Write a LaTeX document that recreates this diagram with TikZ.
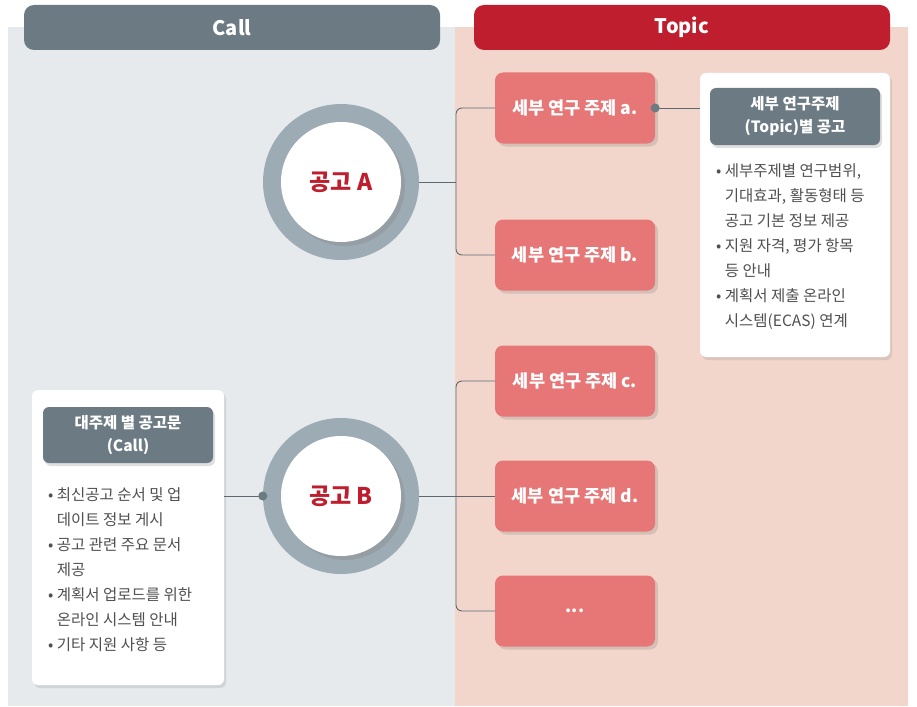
\documentclass[tikz,border=0pt]{standalone}
\usepackage{fontspec}
\setmainfont{Noto Sans CJK KR}
\usetikzlibrary{positioning, shadows}

\definecolor{callbg}{HTML}{E6EAED}
\definecolor{topicbg}{HTML}{F2D6CC}
\definecolor{slate}{HTML}{6C7A83}
\definecolor{crimson}{HTML}{BE1E2D}
\definecolor{salmon}{HTML}{E77676}
\definecolor{ring}{HTML}{9DABB4}
\definecolor{wire}{HTML}{5D6870}
\definecolor{note}{HTML}{505050}

\tikzset{
  header/.style={rounded corners=10pt, minimum width=416pt, minimum height=45pt, text=white,
    font=\fontsize{20}{22}\selectfont\bfseries},
  topicbox/.style={fill=salmon, rounded corners=8pt, minimum width=160pt, minimum height=71pt,
    text=white, font=\fontsize{17.5}{19}\selectfont\bfseries,
    drop shadow={opacity=0.25, shadow xshift=3pt, shadow yshift=-3pt}},
  ringnode/.style={circle, fill=ring, minimum size=156pt, inner sep=0pt},
  corenode/.style={circle, fill=white, minimum size=120pt, inner sep=0pt, text=crimson,
    font=\fontsize{23}{25}\selectfont\bfseries,
    drop shadow={opacity=0.3, shadow xshift=4pt, shadow yshift=-4pt}},
  infobox/.style={fill=white, rounded corners=6pt,
    drop shadow={opacity=0.2, shadow xshift=2pt, shadow yshift=-3pt}},
  infohead/.style={fill=slate, rounded corners=6pt, minimum width=170pt, minimum height=57pt,
    text=white, align=center, font=\fontsize{15.5}{23}\selectfont\bfseries,
    drop shadow={opacity=0.25, shadow xshift=2pt, shadow yshift=-3pt}},
  bullets/.style={anchor=north west, inner sep=0pt, align=left, text=note,
    font=\fontsize{15.5}{25}\selectfont},
  conn/.style={draw=wire, line width=0.9pt, rounded corners=6pt},
  dot/.style={circle, fill=slate, minimum size=9pt, inner sep=0pt}
}
\newcommand{\ind}{\hphantom{•~}}

\begin{document}
\begin{tikzpicture}[x=1pt, y=-1pt]
  \useasboundingbox (0,0) rectangle (917,706);
  % panels
  \fill[callbg] (8,27) rectangle (455,706);
  \fill[topicbg] (455,27) rectangle (908,706);
  \node[header, fill=slate] (hcall) at (232,27.5) {Call};
  \node[header, fill=crimson] (htopic) at (682,27.5) {Topic};

  % calls
  \node[ringnode] (ra) at (341,182) {};
  \node[corenode] (ca) at (ra) {공고 A};
  \node[ringnode] (rb) at (341,496) {};
  \node[corenode] (cb) at (rb) {공고 B};

  % topics
  \foreach \n/\y in {a/108, b/255, c/381, d/496}{
    \node[topicbox] (t\n) at (575,\y) {세부 연구 주제 \n.};
  }
  \node[topicbox] (te) at (575,611) {...};

  \coordinate (ja) at (456,182);
  \coordinate (jb) at (456,496);
  \draw[conn] (ra.east) -- (ja);
  \draw[conn] (ta.west) -| (ja) |- (tb.west);
  \draw[conn] (rb.east) -- (td.west);
  \draw[conn] (tc.west) -| (jb) |- (te.west);

  % topic notice
  \node[infobox, minimum width=190pt, minimum height=284pt] (it) at (795,215) {};
  \node[infohead] (iht) at (795,116.5) {세부 연구주제\\(Topic)별 공고};
  \node[bullets] (bt) at (716,163) {• 세부주제별 연구범위,\\\ind 기대효과, 활동형태 등\\\ind 공고 기본 정보 제공\\
    • 지원 자격, 평가 항목\\\ind 등 안내\\• 계획서 제출 온라인\\\ind 시스템(ECAS) 연계};
  \draw[conn] (ta.east) -- (ta.east -| it.west);
  \node[dot] at (ta.east) {};

  % call notice
  \node[infobox, minimum width=192pt, minimum height=295pt] (ic) at (128,537.5) {};
  \node[infohead, minimum height=56pt] (ihc) at (128,435) {대주제 별 공고문\\(Call)};
  \node[bullets] (bc) at (48,487) {• 최신공고 순서 및 업\\\ind 데이트 정보 게시\\• 공고 관련 주요 문서\\\ind 제공\\
    • 계획서 업로드를 위한\\\ind 온라인 시스템 안내\\• 기타 지원 사항 등};
  \draw[conn] (ic.east |- rb.west) -- (rb.west);
  \node[dot] at (rb.west) {};
\end{tikzpicture}
\end{document}
